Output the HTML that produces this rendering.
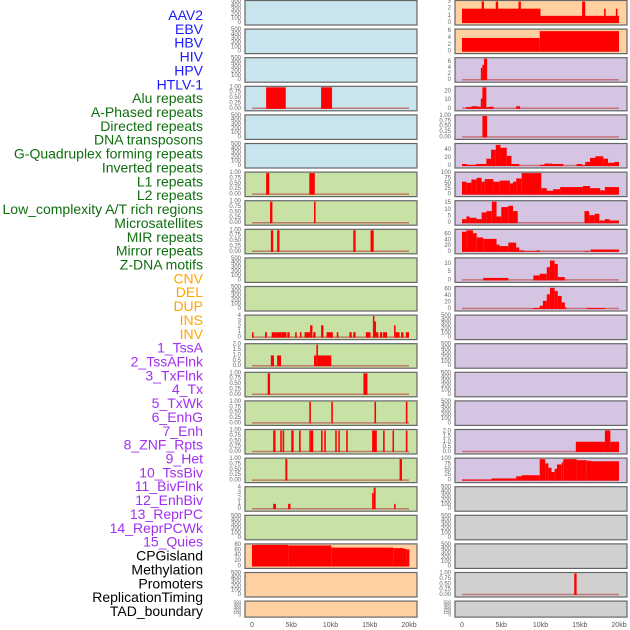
<!DOCTYPE html>
<html><head><meta charset="utf-8">
<style>
html,body{margin:0;padding:0;background:#fff;}
svg{display:block;}
</style></head>
<body>
<svg id="chart" width="630" height="630" xmlns="http://www.w3.org/2000/svg" font-family="Liberation Sans, sans-serif"></svg>
<script>
// ---- data ----
const labelNames = ["AAV2","EBV","HBV","HIV","HPV","HTLV-1","Alu repeats","A-Phased repeats","Directed repeats","DNA transposons","G-Quadruplex forming repeats","Inverted repeats","L1 repeats","L2 repeats","Low_complexity A/T rich regions","Microsatellites","MIR repeats","Mirror repeats","Z-DNA motifs","CNV","DEL","DUP","INS","INV","1_TssA","2_TssAFlnk","3_TxFlnk","4_Tx","5_TxWk","6_EnhG","7_Enh","8_ZNF_Rpts","9_Het","10_TssBiv","11_BivFlnk","12_EnhBiv","13_ReprPC","14_ReprPCWk","15_Quies","CPGisland","Methylation","Promoters","ReplicationTiming","TAD_boundary"];
const labelGroups = ["virus","virus","virus","virus","virus","virus","repeat","repeat","repeat","repeat","repeat","repeat","repeat","repeat","repeat","repeat","repeat","repeat","repeat","sv","sv","sv","sv","sv","chrom","chrom","chrom","chrom","chrom","chrom","chrom","chrom","chrom","chrom","chrom","chrom","chrom","chrom","chrom","other","other","other","other","other"];
const xTicks = [0,5,10,15,20];
const xTickLabels = ["0","5kb","10kb","15kb","20kb"];
const ticks500 = [0,100,200,300,400,500];
const ticks1 = [0,0.25,0.5,0.75,1];

const r0R = [[0,10,2],[10,20,1],[2.5,2.8,3],[4.3,4.6,3],[7.2,7.5,3],[15.3,15.7,3],[18.1,18.3,2],[19.6,19.8,2]];
const r1R = [[0,9.9,4],[9.9,20,6]];
const r2R = [[2.4,2.6,4],[2.6,2.8,5],[2.8,3.2,7]];
const r3L = [[1.8,4.3,1],[8.8,10.2,1]];
const r3R = [[0.5,1.2,2],[1.2,2.0,3],[2.0,2.4,2.5],[2.4,2.6,12],[2.6,3.1,25],[3.1,3.5,2],[3.5,4.0,2.5],[6.9,7.4,3]];
const r4R = [[2.6,3.2,1]];
const r5R = [[0,0.6,5],[0.6,1.8,3],[1.8,3.1,5],[3.1,3.7,18],[3.7,4.3,40],[4.3,4.9,52],[4.9,5.7,45],[5.7,6.3,25],[6.3,7.3,5],[9.9,10.5,3],[10.5,11.5,6],[11.5,12.9,5],[14.6,15.3,5],[15.3,15.7,2],[15.7,16.3,10],[16.3,17,20],[17,18,24],[18,18.6,18],[18.6,19.4,8],[19.4,20,10]];
const r6L = [[1.8,2.2,1],[7.3,8.0,1]];
const r6R = [[0,0.56,60],[0.56,1.2,55],[1.2,1.87,70],[1.87,2.5,78],[2.5,2.9,60],[2.9,4.0,72],[4.0,4.8,60],[4.8,6.1,65],[6.1,6.5,52],[6.5,6.9,60],[6.9,7.6,75],[7.6,10.1,100],[10.1,10.8,30],[10.8,11.6,18],[11.6,12.5,25],[12.5,15.4,35],[15.4,16.3,40],[16.3,17.6,30],[17.6,18.2,20],[18.2,20,35]];
const r7L = [[2.3,2.6,1],[7.9,8.1,1]];
const r7R = [[0,0.56,3],[0.56,0.98,5],[0.98,1.87,4],[1.87,2.5,3],[2.5,3.1,8],[3.1,3.8,9],[3.8,4.4,16],[4.4,5.0,5],[5.0,5.9,12],[5.9,6.5,13],[6.5,7.1,9],[15.6,16.2,9],[16.2,16.9,6],[16.9,17.5,7],[17.5,18.2,2],[18.2,18.8,3],[18.8,20,2]];
const r8L = [[2.4,2.7,1],[3.2,3.5,1],[12.9,13.2,1],[15.1,15.5,1]];
const r8R = [[0,0.56,70],[0.56,1.4,75],[1.4,1.87,65],[1.87,2.7,50],[2.7,4.4,45],[4.4,4.8,25],[4.8,5.9,20],[5.9,6.9,32],[6.9,7.3,15],[7.3,7.9,5],[7.9,9.5,2],[9.5,9.9,5],[15.6,16.2,2],[16.4,20,8]];
const r9R = [[2.7,5.9,1.5],[9.1,9.9,3],[9.9,10.8,4],[10.8,11.2,8],[11.2,11.8,12],[11.8,12.2,10],[12.2,13.1,2]];
const r10R = [[9.0,9.9,3],[9.9,10.3,10],[10.3,10.8,25],[10.8,11.2,45],[11.2,11.8,65],[11.8,12.2,55],[12.2,12.7,40],[12.7,13.1,20],[13.1,13.3,5],[15.9,18.2,3]];
const r11L = [[0,0.2,1],[1.66,1.9,1],[2.5,3.1,1],[3.1,3.8,1],[3.8,4.4,1],[4.5,4.8,1],[5.5,5.7,1],[6.1,6.3,1],[6.7,7.4,1],[7.4,7.7,2.3],[7.8,8.1,1],[8.8,9.1,2.3],[9.5,10.3,1],[10.8,11.0,1],[12.4,12.7,1],[12.9,13.2,1],[14.5,15.1,1],[15.4,15.6,4],[15.6,15.8,3],[15.8,16.1,1],[16.3,16.6,1],[16.7,17.2,1],[18.1,18.3,2.3],[18.3,18.8,1],[19.0,19.3,1],[19.6,20,1]];
const r12L = [[2.4,2.8,1],[3.2,3.7,1],[7.9,8.2,1],[8.2,8.4,2],[8.4,10.1,1]];
const r13L = [[2.0,2.3,1],[14.2,14.7,1]];
const r14L = [[7.3,7.5,1],[10.1,10.3,1],[15.6,15.8,1],[19.6,19.8,1]];
const r15L = [[2.7,3.0,1],[3.6,3.8,1],[3.9,4.1,1],[5.0,5.3,1],[6.0,6.2,1],[7.3,7.5,1],[7.5,7.8,1],[8.8,9.0,1],[9.2,9.4,1],[10.6,10.8,1],[11.0,11.1,1],[12.0,12.2,1],[15.3,15.9,1],[16.7,16.9,1],[17.9,18.0,1],[19.6,19.8,1]];
const r15R = [[14.5,18.2,1],[18.2,18.9,2.1],[18.9,20,1]];
const r16L = [[4.25,4.5,1],[18.8,19.1,1]];
const r16R = [[0,3.76,5],[3.76,6.9,10],[6.9,7.6,20],[7.6,9.9,25],[9.9,10.6,100],[10.6,11.0,80],[11.0,11.4,60],[11.4,11.8,40],[11.8,12.1,55],[12.1,12.7,75],[12.7,12.9,85],[12.9,14.6,100],[14.6,15.9,95],[15.9,16.5,92],[16.5,20,90]];
const r17L = [[2.7,3.06,1],[4.6,4.9,1],[15.3,15.5,3],[15.5,15.75,4],[18.1,18.3,1]];
const r19L = [[0,4.6,80],[4.6,10.1,78],[10.1,18.0,70],[18.0,19.3,68],[19.3,19.7,65],[19.7,20.04,63]];
const r20R = [[14.3,14.6,1]];

// ---- layout / styles ----
const C = {blue:"#c8e4ec", green:"#c8e1a4", peach:"#ffd1a0", purple:"#d5c5e2", gray:"#d0d0d0"};
function tk(arr, fmt){return {ticks:arr, fmt:fmt};}
const T500 = tk(ticks500, v=>String(v));
const T1 = tk(ticks1, v=>v.toFixed(2));
const leftPanels = [
 [C.blue,null,T500,500],[C.blue,null,T500,500],[C.blue,null,T500,500],[C.blue,r3L,T1,1],[C.blue,null,T500,500],[C.blue,null,T500,500],
 [C.green,r6L,T1,1],[C.green,r7L,T1,1],[C.green,r8L,T1,1],[C.green,null,T500,500],[C.green,null,T500,500],
 [C.green,r11L,tk([0,1,2,3,4],String),4],[C.green,r12L,tk([0,0.5,1,1.5,2],v=>v.toFixed(1)),2],[C.green,r13L,T1,1],[C.green,r14L,T1,1],[C.green,r15L,T1,1],[C.green,r16L,T1,1],
 [C.green,r17L,tk([0,1,2,3,4],String),4],[C.green,null,T500,500],[C.peach,r19L,tk([0,20,40,60,80],String),80],[C.peach,null,T500,500],[C.peach,null,T500,500]
];
const rightPanels = [
 [C.peach,r0R,tk([0,1,2,3],String),3],[C.peach,r1R,tk([0,2,4,6],String),6.3],[C.purple,r2R,tk([0,2,4,6],String),7],[C.purple,r3R,tk([0,10,20],String),25],[C.purple,r4R,T1,1],[C.purple,r5R,tk([0,20,40],String),53],
 [C.purple,r6R,tk([0,25,50,75,100],String),100],[C.purple,r7R,tk([0,5,10,15],String),16],[C.purple,r8R,tk([0,20,40,60],String),75],[C.purple,r9R,tk([0,5,10],String),13],[C.purple,r10R,tk([0,20,40,60],String),66],
 [C.purple,null,T500,500],[C.purple,null,T500,500],[C.purple,null,T500,500],[C.purple,null,T500,500],[C.purple,r15R,tk([0,0.5,1,1.5,2],v=>v.toFixed(1)),2.1],[C.purple,r16R,tk([0,25,50,75,100],String),100],
 [C.gray,null,T500,500],[C.gray,null,T500,500],[C.gray,null,T500,500],[C.gray,r20R,T1,1],[C.gray,null,T500,500]
];
const labelColors = {virus:"#1a1aff", repeat:"#0f6e0f", sv:"#ffa500", chrom:"#a030f0", other:"#000"};

const NS="http://www.w3.org/2000/svg";
const svg=document.getElementById('chart');
function el(tag,attrs,parent){const e=document.createElementNS(NS,tag);for(const k in attrs)e.setAttribute(k,attrs[k]);(parent||svg).appendChild(e);return e;}

// labels
labelNames.forEach((name,i)=>{
  const t=el('text',{x:203,y:15+i*13.86,'text-anchor':'end','dominant-baseline':'central','font-size':'14',fill:labelColors[labelGroups[i]]});
  t.textContent=name;
  
  
});

function xScaleFor(offset){return kb=>offset+252+kb*7.85;}
function drawPanel(p,i,offset,side){
  const [bg,data,tks,ymax]=p;
  const top=0.5+i*28.6, h=(i===21)?16:24.5;
  const x0=offset+245, w=172;
  const xs=xScaleFor(offset);
  const yb=top+h-2, yt=top+1;
  const ys=v=>yb-(v/ymax)*(yb-yt);
  const g=el('g',{});
  
  
  const r=el('rect',{x:x0,y:top,width:w,height:h,fill:bg,stroke:'#666','stroke-width':1.2},g);
  
  
  // y ticks
  const fs=(i===21)?4.5:6;
  tks.ticks.forEach(v=>{
    const t=el('text',{x:x0-4,y:ys(v),'text-anchor':'end','dominant-baseline':'central','font-size':fs,fill:'#666'},g);
    t.textContent=tks.fmt(v);
    
    
  });
  if(data){
    const bl=el('line',{x1:xs(0),x2:xs(20),y1:yb-0.5,y2:yb-0.5,stroke:'#c06060','stroke-width':1.5,opacity:0.8},g);
    
    
    data.forEach(d=>{
      const b=el('rect',{x:xs(d[0]),y:ys(d[2]),width:Math.max(1.5,xs(d[1])-xs(d[0])),height:yb-ys(d[2]),fill:'#ff0000'},g);
      
      
    });
  }
}
leftPanels.forEach((p,i)=>drawPanel(p,i,0,'left'));
rightPanels.forEach((p,i)=>drawPanel(p,i,210,'right'));

// x axis tick labels
[0,210].forEach(off=>{
  const xs=xScaleFor(off);
  xTicks.forEach((v,j)=>{
    const t=el('text',{x:xs(v),y:627,'text-anchor':'middle','font-size':'7',fill:'#555'});
    t.textContent=xTickLabels[j];
    
    
  });
});
</script>
</body></html>
